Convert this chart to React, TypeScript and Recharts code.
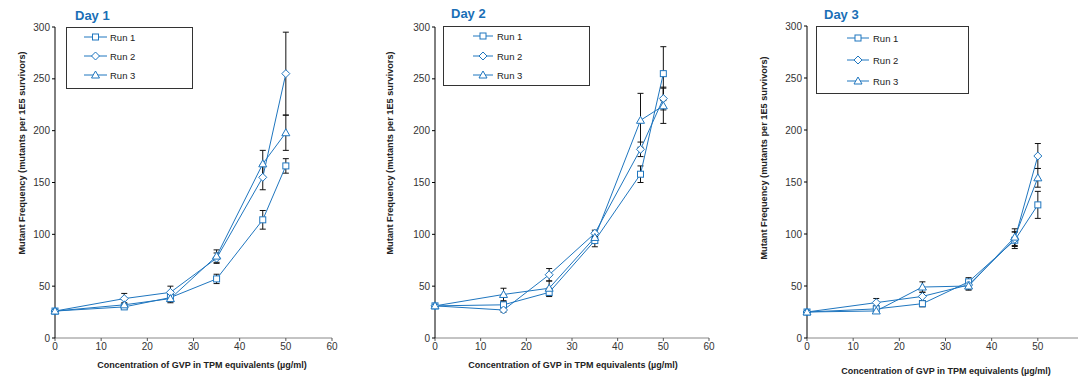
import React from "react";
import { LineChart, Line, XAxis, YAxis, ErrorBar } from "recharts";

// Three panels (Day 1..3), three runs each, concentration on x.
const CONC = [0, 15, 25, 35, 45, 50];
const RUNS = ["Run 1", "Run 2", "Run 3"];
const Y_TICKS = [0, 50, 100, 150, 200, 250, 300];
const X_TICKS = [0, 10, 20, 30, 40, 50, 60];
const X_TICKS_CUT = [0, 10, 20, 30, 40, 50];

const day1Run1 = [26, 30, 39, 57, 114, 166];
const day1Run2 = [26, 38, 44, 77, 155, 255];
const day1Run3 = [26, 32, 38, 79, 168, 198];
const day1Err1 = [1, 2, 4, 4.5, 9, 7];
const day1Err2 = [1, 5, 6, 5, 12, 40];
const day1Err3 = [1, 2, 4, 6, 13, 17];

const day2Run1 = [31, 32, 44, 94, 158, 255];
const day2Run2 = [31, 27, 61, 101, 182, 231];
const day2Run3 = [31, 42, 48, 97, 210, 224];
const day2Err1 = [2, 3, 4, 6, 8, 26];
const day2Err2 = [2, 2, 6, 3, 7, 11];
const day2Err3 = [2, 6, 7, 5, 26, 17];

const day3Run1 = [25, 28, 33, 54, 94, 128];
const day3Run2 = [25, 34, 40, 51, 95, 175];
const day3Run3 = [25, 26, 49, 50, 97, 154];
const day3Err1 = [1, 3, 3, 4, 8, 13];
const day3Err2 = [1, 4, 4, 4, 7, 12];
const day3Err3 = [1, 2, 5, 4, 8, 9];

const BLUE = "#1f76bf";
const TITLE_BLUE = "#1a6fb6";
const FONT = "'Liberation Sans', Arial, sans-serif";
const Y_LABEL = "Mutant Frequency (mutants per 1E5 survivors)";
const X_LABEL = "Concentration of GVP in TPM equivalents (µg/ml)";

type Shape = "square" | "diamond" | "triangle";
const SHAPES: Shape[] = ["square", "diamond", "triangle"];

function marker(shape: Shape, cx: number, cy: number, key?: string) {
  const s = 3;
  if (shape === "square")
    return <rect key={key} x={cx - s} y={cy - s} width={s * 2} height={s * 2} fill="#fff" stroke={BLUE} strokeWidth={1} />;
  if (shape === "diamond")
    return (
      <polygon key={key} points={`${cx},${cy - 4} ${cx + 4},${cy} ${cx},${cy + 4} ${cx - 4},${cy}`} fill="#fff" stroke={BLUE} strokeWidth={1} />
    );
  return (
    <polygon key={key} points={`${cx},${cy - 4} ${cx + 4},${cy + 3} ${cx - 4},${cy + 3}`} fill="#fff" stroke={BLUE} strokeWidth={1} />
  );
}

function buildRows(runs: number[][], errs: number[][]) {
  return CONC.map((x, i) => ({
    x,
    r0: runs[0][i],
    r1: runs[1][i],
    r2: runs[2][i],
    e0: errs[0][i],
    e1: errs[1][i],
    e2: errs[2][i],
  }));
}

const tickStyle = { fontFamily: FONT, fontSize: 10, fill: "#333" };

type PanelProps = {
  title: string;
  runs: number[][];
  errs: number[][];
  xTicks: number[];
  left: number;
  width: number;
  margin: { top: number; right: number; bottom: number; left: number };
  titleX: number;
  titleY: number;
  yLabelX: number;
  yLabelY: number;
  xLabelX: number;
  xLabelY: number;
  legend: { x: number; y: number; w: number; h: number; lx1: number; lx2: number; tx: number; rows: number[] };
};

function Panel(p: PanelProps) {
  const data = buildRows(p.runs, p.errs);
  const lg = p.legend;
  return (
    <div style={{ position: "absolute", left: p.left, top: 0, width: p.width, height: 378 }}>
      <LineChart width={p.width} height={378} data={data} margin={p.margin}>
        <XAxis
          type="number"
          dataKey="x"
          domain={[0, 60]}
          ticks={p.xTicks}
          tick={tickStyle}
          tickSize={3}
          height={20}
          axisLine={{ stroke: "#888" }}
          tickLine={{ stroke: "#555" }}
        />
        <YAxis
          type="number"
          domain={[0, 300]}
          ticks={Y_TICKS}
          tick={tickStyle}
          tickSize={3}
          width={30}
          axisLine={{ stroke: "#000" }}
          tickLine={{ stroke: "#000" }}
        />
        {[0, 1, 2].map((k) => (
          <Line
            key={k}
            dataKey={`r${k}`}
            name={RUNS[k]}
            stroke={BLUE}
            strokeWidth={1}
            isAnimationActive={false}
            dot={(d: any) => marker(SHAPES[k], d.cx, d.cy, `d${k}-${d.index}`)}
            activeDot={false}
          >
            <ErrorBar dataKey={`e${k}`} width={3} stroke="#111" strokeWidth={1} direction="y" isAnimationActive={false} />
          </Line>
        ))}
      </LineChart>
      <svg
        width={p.width}
        height={378}
        style={{ position: "absolute", left: 0, top: 0, pointerEvents: "none", fontFamily: FONT }}
      >
        <text x={p.titleX} y={p.titleY} fontSize={13} fontWeight="bold" fill={TITLE_BLUE}>
          {p.title}
        </text>
        <text
          x={p.yLabelX}
          y={p.yLabelY}
          fontSize={9.2}
          fontWeight="bold"
          fill="#222"
          textAnchor="middle"
          transform={`rotate(-90 ${p.yLabelX} ${p.yLabelY})`}
        >
          {Y_LABEL}
        </text>
        <text x={p.xLabelX} y={p.xLabelY} fontSize={9} fontWeight="bold" fill="#222" textAnchor="middle">
          {X_LABEL}
        </text>
        <rect x={lg.x + 0.5} y={lg.y + 0.5} width={lg.w} height={lg.h} fill="#fff" stroke="#333" strokeWidth={1} />
        {lg.rows.map((ry, k) => (
          <g key={k}>
            <line x1={lg.lx1} x2={lg.lx2} y1={ry} y2={ry} stroke={BLUE} strokeWidth={1} />
            {marker(SHAPES[k], (lg.lx1 + lg.lx2) / 2, ry)}
            <text x={lg.tx} y={ry + 3.5} fontSize={9.5} fill="#222">
              {RUNS[k]}
            </text>
          </g>
        ))}
      </svg>
    </div>
  );
}

export default function App() {
  return (
    <div
      style={{
        position: "absolute",
        left: 0,
        top: 0,
        width: 1078,
        height: 378,
        overflow: "hidden",
        background: "#fff",
      }}
    >
      <Panel
        title="Day 1"
        runs={[day1Run1, day1Run2, day1Run3]}
        errs={[day1Err1, day1Err2, day1Err3]}
        xTicks={X_TICKS}
        left={0}
        width={360}
        margin={{ top: 27, right: 28, bottom: 20, left: 25 }}
        titleX={75}
        titleY={20}
        yLabelX={25}
        yLabelY={153}
        xLabelX={202}
        xLabelY={368}
        legend={{ x: 66, y: 27, w: 126, h: 61, lx1: 84, lx2: 107, tx: 110, rows: [37, 56, 75] }}
      />
      <Panel
        title="Day 2"
        runs={[day2Run1, day2Run2, day2Run3]}
        errs={[day2Err1, day2Err2, day2Err3]}
        xTicks={X_TICKS}
        left={360}
        width={360}
        margin={{ top: 27, right: 11, bottom: 20, left: 45 }}
        titleX={91}
        titleY={18}
        yLabelX={33}
        yLabelY={153}
        xLabelX={213}
        xLabelY={368}
        legend={{ x: 83, y: 26, w: 146, h: 59, lx1: 113, lx2: 133, tx: 137, rows: [36, 56, 75] }}
      />
      <Panel
        title="Day 3"
        runs={[day3Run1, day3Run2, day3Run3]}
        errs={[day3Err1, day3Err2, day3Err3]}
        xTicks={X_TICKS_CUT}
        left={720}
        width={380}
        margin={{ top: 26, right: 16, bottom: 20, left: 57 }}
        titleX={104}
        titleY={19}
        yLabelX={47}
        yLabelY={158}
        xLabelX={226}
        xLabelY={374}
        legend={{ x: 96, y: 26, w: 152, h: 67, lx1: 127, lx2: 149, tx: 153, rows: [38, 60, 81] }}
      />
    </div>
  );
}
